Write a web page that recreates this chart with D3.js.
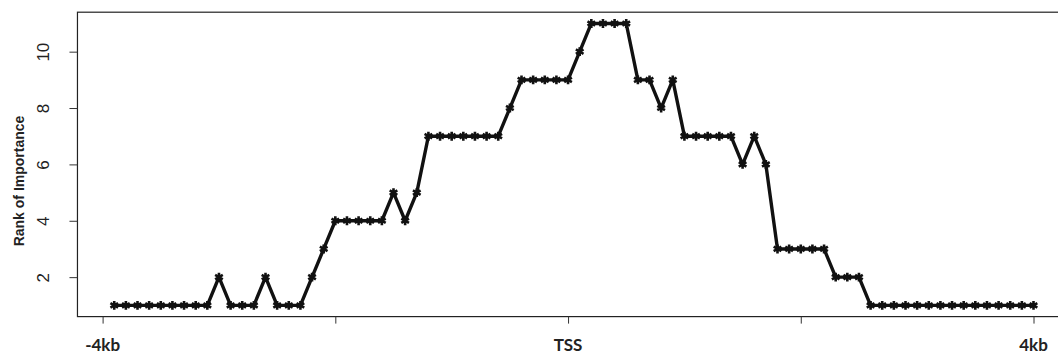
<!DOCTYPE html>
<html>
<head>
<meta charset="utf-8">
<script src="https://cdn.jsdelivr.net/npm/d3@7"></script>
<style>
  html, body { margin: 0; padding: 0; background: #fff; }
  svg { display: block; }
</style>
</head>
<body>
<svg id="chart" width="1058" height="356"></svg>
<script>
// Rank of importance for 80 consecutive 100-bp bins spanning -4kb .. +4kb around the TSS
const binOffsetKb = [
  -3.9, -3.8, -3.7, -3.6, -3.5, -3.4, -3.3, -3.2, -3.1, -3.0,
  -2.9, -2.8, -2.7, -2.6, -2.5, -2.4, -2.3, -2.2, -2.1, -2.0,
  -1.9, -1.8, -1.7, -1.6, -1.5, -1.4, -1.3, -1.2, -1.1, -1.0,
  -0.9, -0.8, -0.7, -0.6, -0.5, -0.4, -0.3, -0.2, -0.1, 0.0,
  0.1, 0.2, 0.3, 0.4, 0.5, 0.6, 0.7, 0.8, 0.9, 1.0,
  1.1, 1.2, 1.3, 1.4, 1.5, 1.6, 1.7, 1.8, 1.9, 2.0,
  2.1, 2.2, 2.3, 2.4, 2.5, 2.6, 2.7, 2.8, 2.9, 3.0,
  3.1, 3.2, 3.3, 3.4, 3.5, 3.6, 3.7, 3.8, 3.9, 4.0
];
const rankValues = [
  1, 1, 1, 1, 1, 1, 1, 1, 1, 2,
  1, 1, 1, 2, 1, 1, 1, 2, 3, 4,
  4, 4, 4, 4, 5, 4, 5, 7, 7, 7,
  7, 7, 7, 7, 8, 9, 9, 9, 9, 9,
  10, 11, 11, 11, 11, 9, 9, 8, 9, 7,
  7, 7, 7, 7, 6, 7, 6, 3, 3, 3,
  3, 3, 2, 2, 2, 1, 1, 1, 1, 1,
  1, 1, 1, 1, 1, 1, 1, 1, 1, 1
];
const xTickKb = [-4, -2, 0, 2, 4];
const xTickLabels = ["-4kb", "", "TSS", "", "4kb"];
const yTicks = [2, 4, 6, 8, 10];
const yTitle = "Rank of Importance";

const svg = d3.select("#chart");

const x = d3.scaleLinear().domain([-4, 4]).range([102.6, 1033.5]);
const y = d3.scaleLinear().domain([0.6, 11.4]).range([316.6, 12.2]);

const box = { left: x(-4.216), right: x(4.316), top: y(11.4), bottom: y(0.6) };

// plotting frame (its right side falls beyond the visible area)
svg.append("rect")
  .attr("x", box.left).attr("y", box.top)
  .attr("width", box.right - box.left).attr("height", box.bottom - box.top)
  .attr("fill", "none").attr("stroke", "#222").attr("stroke-width", 1.2);

// y axis
const yAxis = svg.append("g")
  .attr("transform", `translate(${box.left},0)`)
  .call(d3.axisLeft(y).tickValues(yTicks).tickSize(8).tickPadding(0).tickFormat(d3.format("d")));
yAxis.select(".domain").remove();
yAxis.selectAll(".tick line").attr("stroke", "#333").attr("stroke-width", 1);
yAxis.selectAll(".tick text")
  .attr("x", null)
  .attr("text-anchor", "middle")
  .attr("transform", "translate(-34,0) rotate(-90)")
  .attr("dy", "0.35em")
  .attr("fill", "#222")
  .style("font-family", "'Liberation Sans', Arial, sans-serif")
  .style("font-size", "17px");

svg.append("text")
  .attr("transform", `translate(24,181) rotate(-90)`)
  .attr("text-anchor", "middle")
  .attr("fill", "#222")
  .style("font-family", "'Liberation Sans', Arial, sans-serif")
  .style("font-weight", "bold")
  .style("font-size", "14px")
  .text(yTitle);

// x axis
const xAxis = svg.append("g")
  .attr("transform", `translate(0,${box.bottom})`)
  .call(d3.axisBottom(x).tickValues(xTickKb).tickSize(7).tickFormat(""));
xAxis.select(".domain").remove();
xAxis.selectAll(".tick line").attr("stroke", "#333").attr("stroke-width", 1);

svg.append("g").selectAll("text")
  .data(xTickKb)
  .join("text")
  .attr("x", d => x(d))
  .attr("y", 351)
  .attr("text-anchor", "middle")
  .attr("fill", "#222")
  .style("font-family", "Lato, 'Open Sans', sans-serif")
  .style("font-weight", "bold")
  .style("font-size", "17px")
  .text((d, i) => xTickLabels[i]);

// series
const points = binOffsetKb.map((kb, i) => ({ kb, rank: rankValues[i] }));

svg.append("path")
  .datum(points)
  .attr("fill", "none")
  .attr("stroke", "#111")
  .attr("stroke-width", 3.4)
  .attr("stroke-linejoin", "round")
  .attr("d", d3.line().x(d => x(d.kb)).y(d => y(d.rank)));

const marker = d3.symbol().type(d3.symbolAsterisk).size(55);
svg.append("g").selectAll("path")
  .data(points)
  .join("path")
  .attr("transform", d => `translate(${x(d.kb)},${y(d.rank)})`)
  .attr("d", marker)
  .attr("fill", "none")
  .attr("stroke", "#111")
  .attr("stroke-width", 2.6);
</script>
</body>
</html>
